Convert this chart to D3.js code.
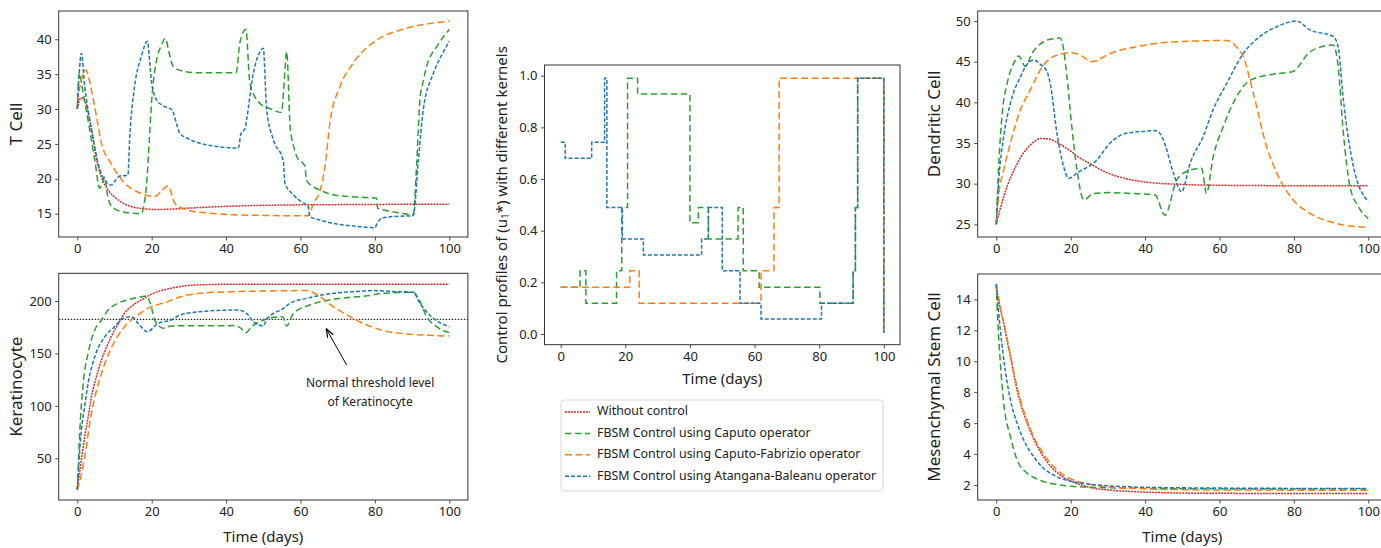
<!DOCTYPE html>
<html><head><meta charset="utf-8">
<script src="https://cdn.jsdelivr.net/npm/d3@7"></script>
<style>
body{margin:0;background:#fff;}
svg text{font-family:"Noto Sans",sans-serif;fill:#222;}
</style></head><body>
<svg id="c" width="1381" height="548"></svg>
<script>
// ---------- DATA ----------
const xTicks = [0,20,40,60,80,100];
const tcellTicks = [15,20,25,30,35,40];
const keraTicks = [50,100,150,200];
const ctrlTicks = [0,0.2,0.4,0.6,0.8,1.0];
const dcTicks = [25,30,35,40,45,50];
const mscTicks = [2,4,6,8,10,12,14];
const seriesNames = ["Without control","FBSM Control using Caputo operator","FBSM Control using Caputo-Fabrizio operator","FBSM Control using Atangana-Baleanu operator"];
const seriesColors = ["#d62728","#2ca02c","#ff7f0e","#1f77b4"];
const seriesDash = ["2,1","6.5,3.5","7,3.5","4,2"];
const keraThreshold = 182.5;

const tcellNone = [[0,30],[1,31.6],[2,31.2],[3,29.3],[4,26.6],[5,23.3],[6,21],[7,19.6],[8,18.6],[9,17.9],[10,17.4],[12,16.6],[14,16.1],[16,15.85],[18,15.7],[20,15.62],[22,15.6],[25,15.65],[30,15.8],[40,16.05],[50,16.2],[60,16.27],[70,16.3],[80,16.33],[100,16.35]];
const tcellCaputo = [[0,30],[0.3,34],[0.6,35.2],[1.2,33.5],[2,31],[2.9,28.4],[3.8,25.5],[4.7,22.7],[6,18.65],[6.8,19.5],[7.4,20.3],[8,18],[8.5,16.8],[10,15.7],[12,15.3],[14,15.1],[17.2,15],[18,16.5],[18.6,19],[19.3,25],[20,31.3],[21.3,37],[22.5,39],[23.7,40.1],[24.7,38],[25.8,36.1],[28.5,35.4],[32,35.2],[42.7,35.2],[43.7,39.5],[45.3,41.4],[46.4,33.7],[47.5,32],[49.1,30.8],[52,30],[54.9,29.5],[55.5,33],[56.3,38.2],[57.2,27.5],[58,25],[59,23.2],[61.2,21.8],[61.6,19.8],[63,19],[65.2,18.4],[68.8,17.7],[75,17.4],[80.5,17.2],[80.7,15.8],[83,15.45],[87,15.1],[90.3,14.85],[91.2,21.8],[92.1,31.3],[93,34],[93.9,36.1],[96.6,38.9],[100,41.4]];
const tcellCF = [[0,31],[1,34],[2.3,35.6],[3.5,33.5],[4.7,30.3],[6.5,25.1],[9.1,22.2],[12.7,19.4],[17.2,17.9],[20.8,17.45],[22.5,18.2],[24.4,19],[26.2,16.5],[29.4,15.55],[35,15.1],[41.9,14.85],[50,14.75],[62.1,14.7],[63.5,16.5],[65.2,18.2],[66.6,21.8],[67.9,28],[70.6,33.2],[74.2,36.6],[80.5,39.9],[86.7,41.3],[93,42.1],[100,42.6]];
const tcellAB = [[0,30],[0.5,35],[1.1,38],[2,33.2],[3,29.5],[3.8,27],[4.7,24.5],[5.6,22.2],[7.4,19.8],[9.1,19.1],[10,19.6],[11.4,20.4],[13.6,20.5],[14.1,26],[15.4,33.2],[17.2,37.5],[18.8,39.7],[20,33.7],[21.3,31.3],[23,30.5],[25.4,29.9],[27.6,26.5],[30,25.7],[33,25.1],[38,24.6],[43.3,24.4],[44,26.5],[45.1,27.2],[45.5,28.4],[47.3,35.1],[48.5,37.5],[50,38.7],[50.9,29.9],[52.7,25.6],[55.4,22.5],[55.8,19.4],[58.1,17.7],[60,16.8],[62.1,16],[62.5,14.6],[65.2,14.1],[68.8,13.6],[75,13.2],[80,13],[80.5,13.5],[81.8,14.35],[85,14.6],[90.3,14.7],[91.7,22.7],[93,29.9],[95.7,35.1],[98,37.8],[100,39.7]];

const keraNone = [[0,20],[1,46],[2,70.6],[3,91],[3.8,108.8],[5,126],[6.5,143.8],[8,157],[9.1,166],[11,178],[12.7,188.3],[15,196],[17.2,201],[20,206.5],[21.7,208.9],[25,212],[30.6,215],[35,215.6],[40,215.9],[60,216],[100,216]];
const keraCaputo = [[0,20],[0.3,45],[0.6,70.6],[1.5,118.3],[2.9,150],[4.7,172.4],[6.5,181.9],[8.3,191.4],[10.9,197.8],[14,201.5],[17.2,204.1],[18.6,204.8],[20,193],[20.8,182],[23.1,174],[25.3,176.2],[32.5,176.4],[42.4,176.5],[44,174],[45.3,169.8],[47,176],[49.1,180.3],[52.7,184.4],[55.2,185],[56.3,176.2],[58.1,188.2],[62.5,196.2],[68.8,201.6],[75,204],[79.6,205.7],[81,207],[85,207.8],[90.3,208.3],[91.7,202.5],[93.9,185],[96.6,175.5],[100,169.8]];
const keraCF = [[0,20],[1,33],[2,51.6],[3.8,92.9],[5,112],[6.5,131],[9.1,154.9],[12.7,175.5],[16.3,186.7],[19.9,194.6],[22,197],[24.4,199.4],[26,202],[28.5,204.8],[33,207.3],[41.9,208.9],[50,209.5],[61.6,209.9],[63,208.5],[65.2,204.1],[68.8,194.6],[73.3,185],[77.8,177.1],[82.3,171.7],[88.5,168.5],[94,167.3],[100,166.6]];
const keraAB = [[0,20],[0.5,50],[1.1,77],[2,100],[2.9,121.5],[4.7,146.9],[7.4,166],[10,175.5],[12.3,183.5],[14.5,185],[16.5,178],[18.8,170.7],[21.7,178.7],[25.3,181.9],[27.6,186.6],[33,189.8],[38,191],[43,191.4],[45.5,188.2],[47.3,180.3],[50,176.2],[50.9,182.5],[55.4,193],[57.2,197.8],[61.6,202.5],[68.8,207.3],[75,209],[79.6,209.9],[85,209],[90.3,208.3],[92.1,197.8],[95.7,183.5],[100,175.5]];

const ctrlCaputo = [[0,0.181],[6,0.245],[7.8,0.119],[17.3,0.245],[18.9,0.49],[20.7,0.99],[23.8,0.929],[40,0.431],[42.6,0.49],[45.7,0.368],[54.9,0.49],[56.5,0.245],[61.4,0.181],[80.2,0.119],[90.5,0.245],[91.2,0.49],[91.9,0.99],[100,0.99],[100,0.005]];
const ctrlCF = [[0,0.181],[21.4,0.245],[24.3,0.119],[62,0.245],[66,0.49],[67.6,0.99],[100,0.99],[100,0.005]];
const ctrlAB = [[0,0.742],[1.4,0.68],[9.6,0.742],[13.6,0.99],[14.3,0.49],[19.1,0.368],[25.6,0.306],[43.6,0.368],[45.7,0.49],[50,0.245],[55.5,0.119],[62,0.058],[80.7,0.119],[90.5,0.245],[91.2,0.49],[91.9,0.99],[100,0.99],[100,0.005]];

const dcNone = [[0,25],[1,26.8],[2,28.4],[3,29.8],[4,30.9],[5,31.9],[6,32.8],[8,34.2],[10,35.1],[12,35.55],[14,35.5],[16,35.15],[18,34.6],[20,34],[22,33.3],[25,32.5],[30,31.3],[35,30.6],[40,30.2],[50,29.9],[60,29.8],[80,29.75],[100,29.75]];
const dcCaputo = [[0,25],[0.6,31.7],[1.5,38.2],[2.9,42.3],[4.7,44.8],[6,45.7],[7.8,44.4],[9.6,46],[12.7,47.45],[15,47.8],[17.2,47.9],[17.9,47],[19,43.1],[20.3,37],[21.7,31.7],[23.5,28],[26.2,28.8],[30.6,28.9],[36,28.8],[42.7,28.6],[45.3,26.1],[48.5,30.45],[51.2,31.5],[55.2,31.9],[56.5,28.8],[58.3,33.3],[61,37],[64.6,40.7],[68.2,42.7],[73.6,43.4],[79.8,43.8],[81.2,44.4],[84.3,46.2],[90.6,47.05],[91.9,44.4],[93.3,36.2],[95.1,29.6],[97.3,27.2],[100,25.7]];
const dcCF = [[0,25],[0.6,28.4],[2,31.7],[3.8,35],[6.5,39.1],[9.1,41.5],[12.7,44.6],[16.3,45.8],[19.9,46.1],[22.6,45.8],[25.7,45],[30.6,46],[39.5,47],[48.5,47.45],[61.9,47.6],[64.6,46.8],[66.4,45.6],[69.1,41.1],[72.7,34.5],[75.4,31.3],[79.8,28],[84.3,26.35],[91.5,25.1],[100,24.6]];
const dcAB = [[0,25],[0.6,30],[2,35.8],[3.8,39.9],[6.5,43.15],[8.5,44.8],[10.1,45.2],[12,44.6],[13.6,43.8],[14.5,42.3],[16.3,36.2],[18.1,32.1],[19.5,30.65],[21.7,31.3],[27,32.9],[30.6,35],[35,36.2],[43.1,36.5],[44.9,35.4],[47.6,31.3],[49.8,29],[52.1,32.5],[55.6,35.8],[58.3,39.1],[61.9,42.3],[66.4,46],[70.9,48.1],[75.4,49.3],[80.7,50],[84.3,48.9],[90.6,48.1],[91.9,46.8],[93.3,40.3],[96,32.1],[100,27.8]];

const mscNone = [[0,14.8],[1,13.5],[2,12.45],[3,11.2],[3.8,10.3],[5,8.8],[5.6,8.14],[7,6.9],[8.3,6],[10,5],[12.7,3.83],[15,3.1],[17.2,2.64],[20,2.25],[21.7,2.1],[25,1.85],[30.6,1.67],[40,1.54],[50,1.48],[60,1.46],[100,1.45]];
const mscCaputo = [[0,15],[0.4,12.66],[1.1,9.86],[2,7.28],[3.8,5.13],[5.6,3.62],[8.3,2.76],[10,2.5],[12.7,2.22],[17.2,2],[20,1.92],[30,1.82],[40,1.78],[60,1.75],[100,1.74]];
const mscCF = [[0,14.9],[1,13.6],[2,12.5],[3.8,10.4],[5.6,8.3],[8.3,6.15],[10,5.15],[12.7,4],[15,3.3],[17.2,2.8],[20,2.4],[25,2.05],[30,1.88],[40,1.75],[60,1.68],[100,1.66]];
const mscAB = [[0,15],[0.5,13.5],[1.1,12],[2.4,9.43],[3.8,7.5],[5.6,5.98],[8.3,4.48],[10,3.85],[12.7,3.08],[15,2.7],[17.2,2.44],[21.7,2.16],[25,2.05],[30,1.95],[40,1.85],[60,1.8],[100,1.77]];

// ---------- DRAW ----------
const svg = d3.select("#c");

function panel(o){
  const x = d3.scaleLinear().domain([-5,105]).range([o.x0,o.x1]);
  const y = d3.scaleLinear().domain(o.yDomain).range([o.y1,o.y0]);
  const g = svg.append("g");
  const clipId = "clip"+o.id;
  svg.append("clipPath").attr("id",clipId).append("rect")
    .attr("x",o.x0).attr("y",o.y0).attr("width",o.x1-o.x0).attr("height",o.y1-o.y0);
  const line = d3.line().x(d=>x(d[0])).y(d=>y(d[1])).curve(o.curve);
  const plot = g.append("g").attr("clip-path",`url(#${clipId})`);
  if(o.extra) o.extra(plot,x,y);
  o.series.forEach((s,i)=>{
    if(!s) return;
    plot.append("path").datum(s).attr("d",line).attr("fill","none")
      .attr("stroke",seriesColors[i]).attr("stroke-width",1.5)
      .attr("stroke-dasharray",seriesDash[i]);
  });
  const xa = g.append("g").attr("transform",`translate(0,${o.y1})`)
    .call(d3.axisBottom(x).tickValues(xTicks).tickSize(3.5).tickPadding(3.5).tickFormat(d3.format("d")));
  const ya = g.append("g").attr("transform",`translate(${o.x0},0)`)
    .call(d3.axisLeft(y).tickValues(o.yTicks).tickSize(3.5).tickPadding(3.5).tickFormat(o.yFormat||d3.format("d")));
  [xa,ya].forEach(a=>{
    a.select(".domain").remove();
    a.selectAll("line").attr("stroke","#222").attr("stroke-width",0.8);
    a.selectAll("text").attr("font-size",13).attr("font-family","Noto Sans").attr("fill","#222");
  });
  g.append("rect").attr("x",o.x0).attr("y",o.y0).attr("width",o.x1-o.x0).attr("height",o.y1-o.y0)
    .attr("fill","none").attr("stroke","#333").attr("stroke-width",1);
  if(o.ylabel){
    g.append("text").attr("transform",`translate(${o.ylabelX},${(o.y0+o.y1)/2}) rotate(-90)`)
      .attr("text-anchor","middle").attr("dominant-baseline","middle")
      .attr("font-family","Liberation Sans").attr("font-size",17).text(o.ylabel);
  }
  if(o.xlabel){
    g.append("text").attr("x",(o.x0+o.x1)/2).attr("y",o.xlabelY).attr("text-anchor","middle")
      .attr("font-size",15).text(o.xlabel);
  }
  return {x,y,g};
}

const smooth = d3.curveMonotoneX;

panel({id:1,x0:58.7,x1:467.9,y0:11,y1:237,yDomain:[11.66,44.05],yTicks:tcellTicks,
  series:[tcellNone,tcellCaputo,tcellCF,tcellAB],curve:smooth,ylabel:"T Cell",ylabelX:17});

panel({id:2,x0:58.7,x1:467.9,y0:273.3,y1:500,yDomain:[10.2,226.4],yTicks:keraTicks,
  series:[keraNone,keraCaputo,keraCF,keraAB],curve:smooth,ylabel:"Keratinocyte",ylabelX:17,
  xlabel:"Time (days)",xlabelY:542,
  extra:(p,x,y)=>{
    p.append("line").attr("x1",x(-5)).attr("x2",x(105)).attr("y1",y(keraThreshold)).attr("y2",y(keraThreshold))
      .attr("stroke","#000").attr("stroke-width",1).attr("stroke-dasharray","1.5,1.5");
  }});

// annotation on keratinocyte panel
(function(){
  const x = d3.scaleLinear().domain([-5,105]).range([58.7,467.9]);
  const y = d3.scaleLinear().domain([10.2,226.4]).range([500,273.3]);
  const hx = x(67), hy = y(173), tx = x(72.4), ty = y(139);
  svg.append("defs").append("marker").attr("id","ah").attr("viewBox","0 0 10 10")
    .attr("refX",9).attr("refY",5).attr("markerWidth",9).attr("markerHeight",9).attr("orient","auto")
    .append("path").attr("d","M0,1.5 L10,5 L0,8.5").attr("fill","none").attr("stroke","#000").attr("stroke-width",1.3);
  svg.append("line").attr("x1",tx).attr("y1",ty).attr("x2",hx).attr("y2",hy)
    .attr("stroke","#000").attr("stroke-width",1).attr("marker-end","url(#ah)");
  svg.append("text").attr("x",x(78.7)).attr("y",y(120.9)).attr("text-anchor","middle")
    .attr("dominant-baseline","middle").attr("font-size",12).text("Normal threshold level");
  svg.append("text").attr("x",x(78.7)).attr("y",y(102.8)).attr("text-anchor","middle")
    .attr("dominant-baseline","middle").attr("font-size",12).text("of Keratinocyte");
})();

// control panel
(function(){
  const o = {x0:544.5,x1:900,y0:65,y1:344.7};
  const x = d3.scaleLinear().domain([-5,105]).range([o.x0,o.x1]);
  const y = d3.scaleLinear().domain([-0.0414,1.0414]).range([o.y1,o.y0]);
  const g = svg.append("g");
  const line = d3.line().x(d=>x(d[0])).y(d=>y(d[1])).curve(d3.curveStepAfter);
  [null,ctrlCaputo,ctrlCF,ctrlAB].forEach((s,i)=>{
    if(!s) return;
    g.append("path").datum(s).attr("d",line).attr("fill","none")
      .attr("stroke",seriesColors[i]).attr("stroke-width",1.5).attr("stroke-dasharray",seriesDash[i]);
  });
  const xa = g.append("g").attr("transform",`translate(0,${o.y1})`)
    .call(d3.axisBottom(x).tickValues(xTicks).tickSize(3.5).tickPadding(3.5).tickFormat(d3.format("d")));
  const ya = g.append("g").attr("transform",`translate(${o.x0},0)`)
    .call(d3.axisLeft(y).tickValues(ctrlTicks).tickSize(3.5).tickPadding(3.5).tickFormat(d3.format(".1f")));
  [xa,ya].forEach(a=>{
    a.select(".domain").remove();
    a.selectAll("line").attr("stroke","#222").attr("stroke-width",0.8);
    a.selectAll("text").attr("font-size",13).attr("font-family","Noto Sans").attr("fill","#222");
  });
  g.append("rect").attr("x",o.x0).attr("y",o.y0).attr("width",o.x1-o.x0).attr("height",o.y1-o.y0)
    .attr("fill","none").attr("stroke","#333").attr("stroke-width",1);
  const yl = g.append("text").attr("transform",`translate(503,${(o.y0+o.y1)/2}) rotate(-90)`)
    .attr("text-anchor","middle").attr("dominant-baseline","middle").attr("font-size",15);
  yl.append("tspan").text("Control profiles of (u");
  yl.append("tspan").attr("font-size",10).attr("dy",3).text("1");
  yl.append("tspan").attr("dy",-3).text("*) with different kernels");
  g.append("text").attr("x",(o.x0+o.x1)/2).attr("y",384).attr("text-anchor","middle")
    .attr("font-size",15).text("Time (days)");

  // legend
  const lg = svg.append("g");
  lg.append("rect").attr("x",561).attr("y",400).attr("width",322).attr("height",91).attr("rx",3)
    .attr("fill","#fff").attr("stroke","#d8d8d8").attr("stroke-width",1);
  seriesNames.forEach((n,i)=>{
    const yy = 412 + i*21.4;
    lg.append("line").attr("x1",565).attr("x2",590).attr("y1",yy).attr("y2",yy)
      .attr("stroke",seriesColors[i]).attr("stroke-width",1.5).attr("stroke-dasharray",seriesDash[i]);
    lg.append("text").attr("x",597).attr("y",yy).attr("dominant-baseline","middle")
      .attr("font-size",12.4).text(n);
  });
})();

panel({id:4,x0:977.7,x1:1386.9,y0:11,y1:237,yDomain:[23.44,51.23],yTicks:dcTicks,
  series:[dcNone,dcCaputo,dcCF,dcAB],curve:smooth,ylabel:"Dendritic Cell",ylabelX:935});

panel({id:5,x0:977.7,x1:1386.9,y0:274,y1:500,yDomain:[1.03,15.64],yTicks:mscTicks,
  series:[mscNone,mscCaputo,mscCF,mscAB],curve:smooth,ylabel:"Mesenchymal Stem Cell",ylabelX:935,
  xlabel:"Time (days)",xlabelY:542});
</script>
</body></html>
